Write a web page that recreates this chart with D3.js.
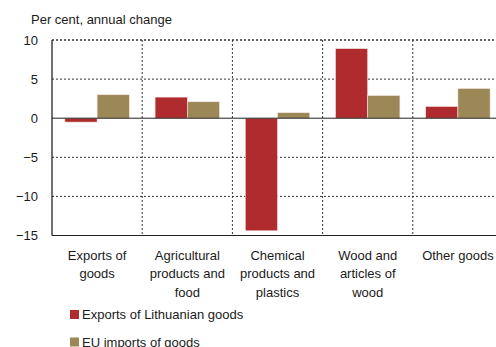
<!DOCTYPE html>
<html lang="en">
<head>
<meta charset="utf-8">
<title>Lithuanian exports vs EU imports</title>
<script src="https://d3js.org/d3.v7.min.js"></script>
<style>
  body { margin: 0; background: #fff; }
  text { font-family: "Liberation Sans", Arial, sans-serif; fill: #1a1a1a; }
</style>
</head>
<body>
<div id="chart"></div>
<script>
// data
var categories = [
  ["Exports of", "goods"],
  ["Agricultural", "products and", "food"],
  ["Chemical", "products and", "plastics"],
  ["Wood and", "articles of", "wood"],
  ["Other goods"]
];
var seriesNames = ["Exports of Lithuanian goods", "EU imports of goods"];
var lithuanianExports = [-0.5, 2.7, -14.4, 8.9, 1.5];
var euImports = [3.0, 2.1, 0.7, 2.9, 3.8];
var yTicks = [10, 5, 0, -5, -10, -15];
var colors = ["#b02b2e", "#9c8856"];

var W = 496, H = 347;
var plot = {left: 52, right: 503, top: 40, bottom: 235.5};

var svg = d3.select("#chart").append("svg")
  .attr("width", W).attr("height", H);

var x = d3.scaleBand()
  .domain(d3.range(categories.length))
  .range([plot.left, plot.right]);

var y = d3.scaleLinear()
  .domain([-15, 10])
  .range([plot.bottom, plot.top]);

var xs = d3.scaleBand()
  .domain([0, 1])
  .range([0, x.bandwidth()])
  .paddingOuter(0.4);

// horizontal grid (dotted)
svg.append("g")
  .selectAll("line")
  .data(yTicks.filter(function(d) { return d !== 0 && d !== -15; }))
  .join("line")
    .attr("x1", plot.left).attr("x2", plot.right)
    .attr("y1", function(d) { return y(d); })
    .attr("y2", function(d) { return y(d); })
    .attr("stroke", "#333")
    .attr("stroke-width", 1)
    .attr("stroke-dasharray", "2,2");

// vertical grid between categories
svg.append("g")
  .selectAll("line")
  .data(d3.range(1, categories.length))
  .join("line")
    .attr("x1", function(i) { return x(i); })
    .attr("x2", function(i) { return x(i); })
    .attr("y1", plot.top).attr("y2", plot.bottom)
    .attr("stroke", "#333")
    .attr("stroke-width", 1)
    .attr("stroke-dasharray", "2,2");

// bars
var rows = categories.map(function(c, i) {
  return [lithuanianExports[i], euImports[i]];
});
var groups = svg.append("g")
  .selectAll("g")
  .data(rows)
  .join("g")
    .attr("transform", function(d, i) { return "translate(" + x(i) + ",0)"; });

groups.selectAll("rect")
  .data(function(d) { return d; })
  .join("rect")
    .attr("x", function(d, j) { return xs(j); })
    .attr("width", xs.bandwidth())
    .attr("y", function(d) { return y(Math.max(0, d)); })
    .attr("height", function(d) { return Math.abs(y(d) - y(0)); })
    .attr("fill", function(d, j) { return colors[j]; })
    .attr("stroke", "#f2e6e0")
    .attr("stroke-width", 0.6);

// zero line and frame
svg.append("line")
  .attr("x1", plot.left).attr("x2", plot.right)
  .attr("y1", y(0)).attr("y2", y(0))
  .attr("stroke", "#222").attr("stroke-width", 1);
svg.append("line")
  .attr("x1", plot.left).attr("x2", plot.right)
  .attr("y1", plot.bottom).attr("y2", plot.bottom)
  .attr("stroke", "#222").attr("stroke-width", 1.2);
svg.append("line")
  .attr("x1", plot.left).attr("x2", plot.right)
  .attr("y1", plot.top).attr("y2", plot.top)
  .attr("stroke", "#333").attr("stroke-width", 1)
  .attr("stroke-dasharray", "2,2");
svg.append("line")
  .attr("x1", plot.left).attr("x2", plot.left)
  .attr("y1", plot.top).attr("y2", plot.bottom)
  .attr("stroke", "#111").attr("stroke-width", 1.2);

// y tick labels
svg.append("g")
  .selectAll("text")
  .data(yTicks)
  .join("text")
    .attr("x", 38)
    .attr("y", function(d) { return y(d); })
    .attr("dy", "0.35em")
    .attr("text-anchor", "end")
    .style("font-size", "13px")
    .text(function(d) { return d < 0 ? "\u2212" + Math.abs(d) : d; });

// title
svg.append("text")
  .attr("x", 31).attr("y", 24)
  .style("font-size", "13px")
  .text("Per cent, annual change");

// category labels
svg.append("g")
  .selectAll("text")
  .data(categories)
  .join("text")
    .attr("text-anchor", "middle")
    .attr("transform", function(d, i) { return "translate(" + (x(i) + x.bandwidth() / 2) + ",0)"; })
    .style("font-size", "13px")
    .selectAll("tspan")
    .data(function(d) { return d; })
    .join("tspan")
      .attr("x", 0)
      .attr("y", function(d, k) { return 260 + k * 18.3; })
      .text(function(d) { return d; });

// legend
var legend = svg.append("g")
  .selectAll("g")
  .data(seriesNames)
  .join("g")
    .attr("transform", function(d, i) { return "translate(70," + (310 + i * 27.5) + ")"; });
legend.append("rect")
  .attr("width", 9).attr("height", 9)
  .attr("fill", function(d, i) { return colors[i]; });
legend.append("text")
  .attr("x", 12).attr("y", 4.5).attr("dy", "0.35em")
  .style("font-size", "13px")
  .text(function(d) { return d; });
</script>
</body>
</html>
